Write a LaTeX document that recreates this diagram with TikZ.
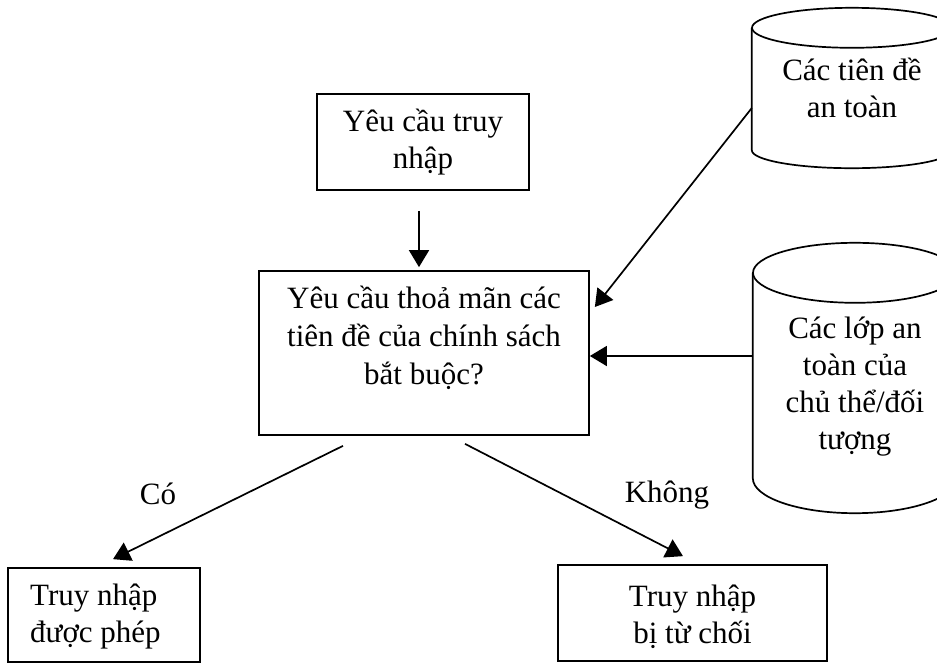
\documentclass[tikz,border=0pt]{standalone}
\usepackage{fontspec}
\setmainfont{Liberation Serif}
\usetikzlibrary{arrows.meta}

\begin{document}
\begin{tikzpicture}[x=1pt,y=-1pt,
  every node/.style={font=\fontsize{31pt}{37pt}\selectfont},
  box/.style={draw, line width=1.7pt, inner sep=0pt},
  body/.style={inner sep=0pt},
  txt/.style={align=center, inner sep=0pt},
  outline/.style={line width=1.7pt},
  arr/.style={line width=1.7pt, -{Triangle[length=17pt,width=20pt]}}]

\useasboundingbox (0,0) rectangle (937,664);
\fill[white] (0,0) rectangle (937,664);
\clip (0,0) rectangle (937,664);

% process boxes
\node[box, minimum width=212pt, minimum height=96pt] (req) at (423,142) {};
\node[txt] (reqtext) at (423,142) {Yêu cầu truy\\nhập};

\node[box, minimum width=330pt, minimum height=164pt] (main) at (424,353) {};
\node[txt, font=\fontsize{31pt}{38pt}\selectfont] (maintext) at (424,338) {Yêu cầu thoả mãn các\\tiên đề của chính sách\\bắt buộc?};

\node[box, minimum width=192pt, minimum height=94pt] (ok) at (104,615) {};
\node[txt, align=left, anchor=west] (oktext) at (30,617) {Truy nhập\\được phép};

\node[box, minimum width=269pt, minimum height=96pt] (deny) at (692.5,613) {};
\node[txt] (denytext) at (692.5,617) {Truy nhập\\bị từ chối};

% data stores (vertical cylinders)
\node[body, minimum width=200pt, minimum height=122pt] (db1) at (852,89) {};
\draw[outline] (db1.north west) -- (db1.south west)
  arc[start angle=180, end angle=360, x radius=100pt, y radius=18pt]
  -- (db1.north east);
\draw[outline] (db1.north) ellipse [x radius=100pt, y radius=20pt];
\node[txt] (db1text) at (852,88) {Các tiên đề\\an toàn};

\node[body, minimum width=204pt, minimum height=205pt] (db2) at (855,375.5) {};
\draw[outline] (db2.north west) -- (db2.south west)
  arc[start angle=180, end angle=360, x radius=102pt, y radius=35pt]
  -- (db2.north east);
\draw[outline] (db2.north) ellipse [x radius=102pt, y radius=30pt];
\node[txt] (db2text) at (855,387) {Các lớp an\\toàn của\\chủ thể/đối\\tượng};

% connectors
\draw[arr] ([xshift=-4pt,yshift=-20pt]req.south) -- ([xshift=-5pt,yshift=3pt]main.north);
\draw[arr] ([yshift=-19pt]db1.west) -- ([xshift=5pt,yshift=46pt]main.east);
\draw[arr] ([yshift=19.5pt]db2.west) -- ([yshift=-3pt]main.east);
\draw[arr] ([xshift=-81pt,yshift=-10pt]main.south) -- ([xshift=9pt,yshift=8pt]ok.north);
\draw[arr] ([xshift=41pt,yshift=-8pt]main.south) -- ([xshift=-9.5pt,yshift=8pt]deny.north);

% branch labels
\node[inner sep=0pt] (yes) at (158,494) {Có};
\node[inner sep=0pt] (no) at (667,495) {Không};

\end{tikzpicture}
\end{document}
